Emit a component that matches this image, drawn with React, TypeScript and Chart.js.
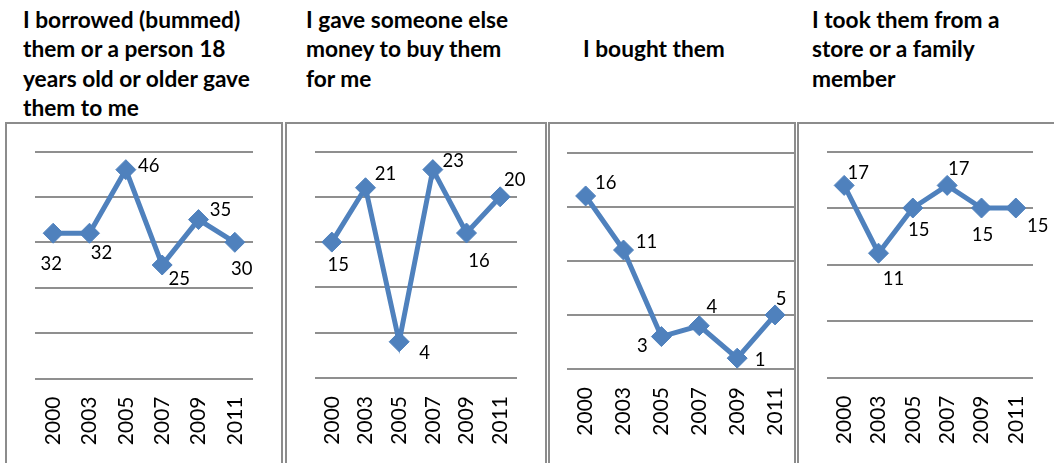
import React, { useEffect, useRef } from 'react';
import { Chart, registerables } from 'chart.js';

Chart.register(...registerables);

// ---------- data ----------
const years = ['2000', '2003', '2005', '2007', '2009', '2011'];
const borrowedValues = [32, 32, 46, 25, 35, 30];
const gaveMoneyValues = [15, 21, 4, 23, 16, 20];
const boughtValues = [16, 11, 3, 4, 1, 5];
const tookValues = [17, 11, 15, 17, 15, 15];

const borrowedTitle = ['I borrowed (bummed)', 'them or a person 18', 'years old or older gave', 'them to me'];
const gaveMoneyTitle = ['I gave someone else', 'money to buy them', 'for me'];
const boughtTitle = ['I bought them'];
const tookTitle = ['I took them from a', 'store or a family', 'member'];

const yMaxes = [50, 25, 20, 20];
const ySteps = [10, 5, 5, 5];

// ---------- style ----------
const BLUE = '#4F81BD';
const GRID = '#8f8f8f';
const BORDER = '#8c8c8c';
const FONT = 'Lato, "Open Sans", sans-serif';

type PanelCfg = {
  values: number[];
  title: string[];
  max: number;
  step: number;
  box: { left: number; right: number };
  canvas: { left: number; width: number };
  pad: { left: number; right: number; top: number };
  gridBottom: number;
  titlePos: { left: number; top: number };
  labelOffsets: number[][];
};

const BOX_TOP = 122;
const CANVAS_TOP = 124;
const PAGE_H = 463;

const panels: PanelCfg[] = [
  {
    values: borrowedValues, title: borrowedTitle, max: yMaxes[0], step: ySteps[0],
    box: { left: 5, right: 283 }, canvas: { left: 7, width: 274 },
    pad: { left: 28, right: 28, top: 27.5 }, gridBottom: 378.5,
    titlePos: { left: 23, top: 5 },
    labelOffsets: [[-2, 30], [12, 19], [23, -4], [17, 13], [22, -10], [7, 26]],
  },
  {
    values: gaveMoneyValues, title: gaveMoneyTitle, max: yMaxes[1], step: ySteps[1],
    box: { left: 285, right: 547 }, canvas: { left: 287, width: 258 },
    pad: { left: 28, right: 28, top: 27.5 }, gridBottom: 378,
    titlePos: { left: 306, top: 5 },
    labelOffsets: [[6.5, 22], [20, -14], [25.5, 11], [20.5, -9], [12.5, 27], [14.5, -17]],
  },
  {
    values: boughtValues, title: boughtTitle, max: yMaxes[2], step: ySteps[2],
    box: { left: 548, right: 796 }, canvas: { left: 550, width: 244 },
    pad: { left: 16.7, right: 0, top: 28.7 }, gridBottom: 369,
    titlePos: { left: 583, top: 34.3 },
    labelOffsets: [[20, -14], [23, -9], [-19, 9], [12.5, -19], [23, 1], [6, -17]],
  },
  {
    values: tookValues, title: tookTitle, max: yMaxes[3], step: ySteps[3],
    box: { left: 797, right: 1070 }, canvas: { left: 799, width: 255 },
    pad: { left: 28, right: 21, top: 27.5 }, gridBottom: 377.5,
    titlePos: { left: 812, top: 5 },
    labelOffsets: [[14, -13], [15, 25], [6, 21], [11.5, -17], [1, 26], [22, 17]],
  },
];

const valueLabelPlugin = {
  id: 'valueLabels',
  afterDatasetsDraw(chart: any) {
    const opts = chart.options.plugins.valueLabels || {};
    const offsets: number[][] = opts.offsets || [];
    const ctx = chart.ctx;
    const meta = chart.getDatasetMeta(0);
    const vals = chart.data.datasets[0].data as number[];
    const size = 18.5;
    ctx.save();
    ctx.font = `${size}px ${FONT}`;
    ctx.fillStyle = '#000';
    ctx.textAlign = 'center';
    ctx.textBaseline = 'alphabetic';
    meta.data.forEach((pt: any, i: number) => {
      const o = offsets[i] || [0, -15];
      ctx.fillText(String(vals[i]), pt.x + o[0], pt.y + o[1] + size * 0.36);
    });
    ctx.restore();
  },
};

function Panel({ cfg }: { cfg: PanelCfg }) {
  const ref = useRef<HTMLCanvasElement>(null);
  const height = PAGE_H - CANVAS_TOP;
  const xAxisH = PAGE_H - cfg.gridBottom;
  useEffect(() => {
    const chart = new Chart(ref.current as HTMLCanvasElement, {
      type: 'line',
      data: {
        labels: years,
        datasets: [
          {
            data: cfg.values,
            borderColor: BLUE,
            backgroundColor: BLUE,
            borderWidth: 5,
            pointStyle: 'rectRot',
            pointRadius: 10,
            pointHoverRadius: 10,
            pointBorderWidth: 1,
            pointBackgroundColor: BLUE,
            pointBorderColor: BLUE,
            tension: 0,
            clip: false as any,
          },
        ],
      },
      options: {
        animation: false,
        responsive: false,
        maintainAspectRatio: false,
        events: [],
        layout: {
          autoPadding: false,
          padding: { left: cfg.pad.left, right: cfg.pad.right, top: cfg.pad.top, bottom: 0 },
        },
        plugins: {
          legend: { display: false },
          tooltip: { enabled: false },
          title: { display: false },
          valueLabels: { offsets: cfg.labelOffsets },
        } as any,
        scales: {
          x: {
            offset: true,
            grid: { display: false, drawTicks: false, tickLength: 0 },
            border: { display: false },
            ticks: {
              maxRotation: 90,
              minRotation: 90,
              autoSkip: false,
              padding: 18,
              color: '#000',
              font: { family: FONT, size: 21 },
            },
            afterFit: (s: any) => {
              s.height = xAxisH;
              s.paddingLeft = 0;
              s.paddingRight = 0;
            },
          },
          y: {
            min: 0,
            max: cfg.max,
            ticks: { stepSize: cfg.step, display: false },
            grid: { color: GRID, lineWidth: 2, drawTicks: false, tickLength: 0 },
            border: { display: false },
            afterFit: (s: any) => {
              s.width = 0;
              s.paddingTop = 0;
              s.paddingBottom = 0;
            },
          },
        },
      },
      plugins: [valueLabelPlugin],
    });
    return () => chart.destroy();
  }, []);
  return (
    <>
      <div
        style={{
          position: 'absolute',
          left: cfg.box.left,
          top: BOX_TOP,
          width: cfg.box.right - cfg.box.left - 4,
          height: PAGE_H - BOX_TOP + 10,
          border: `2px solid ${BORDER}`,
        }}
      />
      <canvas
        ref={ref}
        width={cfg.canvas.width}
        height={height}
        style={{
          position: 'absolute',
          left: cfg.canvas.left,
          top: CANVAS_TOP,
          width: cfg.canvas.width,
          height,
        }}
      />
      <div
        style={{
          position: 'absolute',
          left: cfg.titlePos.left,
          top: cfg.titlePos.top,
          fontFamily: FONT,
          fontWeight: 700,
          fontSize: 22.7,
          lineHeight: '29.3px',
          color: '#000',
          whiteSpace: 'nowrap',
        }}
      >
        {cfg.title.map((line, i) => (
          <div key={i}>{line}</div>
        ))}
      </div>
    </>
  );
}

export default function App() {
  return (
    <div
      style={{
        position: 'absolute',
        left: 0,
        top: 0,
        width: 1054,
        height: PAGE_H,
        overflow: 'hidden',
        background: '#fff',
      }}
    >
      {panels.map((p, i) => (
        <Panel key={i} cfg={p} />
      ))}
    </div>
  );
}
